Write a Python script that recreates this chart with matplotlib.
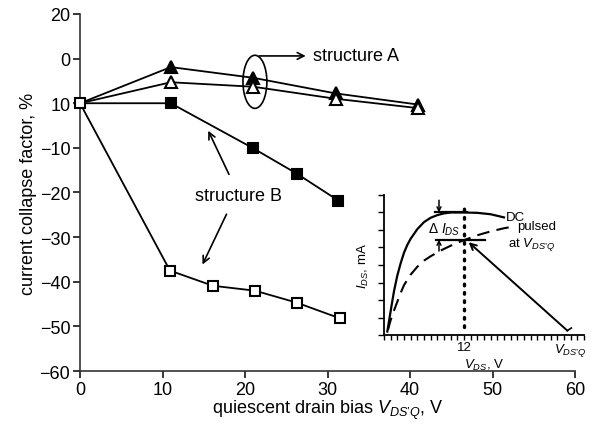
import matplotlib
matplotlib.use("Agg")
import matplotlib.pyplot as plt
from matplotlib.patches import Ellipse

plt.rcParams['font.family'] = ['Liberation Sans', 'DejaVu Sans']
plt.rcParams['mathtext.fontset'] = 'custom'
plt.rcParams['mathtext.rm'] = 'Liberation Sans'
plt.rcParams['mathtext.it'] = 'Liberation Sans:italic'

# ---- main data ----
xA = [0, 11, 21, 31, 41]
a_filled = [0, 8.1, 5.7, 2.2, -0.3]
a_open = [0, 4.7, 3.7, 1.0, -1.1]
xB_filled = [0, 11, 21, 26.3, 31.3]
b_filled = [0, 0.0, -10.1, -15.8, -21.8]
xB_open = [0, 10.9, 16.1, 21.2, 26.3, 31.5]
b_open = [0, -37.5, -40.9, -42.0, -44.7, -48.2]

yticks = [20, 10, 0, -10, -20, -30, -40, -50, -60]
ytick_labels = ['20', '0', '10', '\u221210', '\u221220', '\u221230', '\u221240', '\u221250', '\u221260']
xticks = [0, 10, 20, 30, 40, 50, 60]

# ---- inset data ----
dc_x = [0.5, 0.8, 1.1, 1.5, 2.0, 2.5, 3.0, 3.5, 4.0, 5.0, 6.0, 7.0, 8.0, 9.0, 10.0,
        12.0, 14.0, 16.0, 18.0]
dc_y = [0.2, 0.9, 1.6, 2.5, 3.4, 4.1, 4.7, 5.15, 5.5, 6.05, 6.45, 6.7, 6.85, 6.95, 7.0,
        7.0, 6.98, 6.9, 6.72]
pu_x = [0.6, 1.0, 1.5, 2.0, 2.5, 3.0, 4.0, 5.0, 6.0, 7.0, 8.0, 9.0, 10.0, 11.0, 12.0,
        14.0, 16.0, 18.0, 19.5]
pu_y = [0.3, 0.85, 1.4, 1.9, 2.4, 2.85, 3.45, 3.9, 4.25, 4.5, 4.72, 4.92, 5.1, 5.27, 5.42,
        5.7, 5.92, 6.1, 6.2]
inset_xlabels = {12: '12', 28: "$V_{DS\u2019Q}$"}

FS = 13
IFS = 9.5

fig = plt.figure(figsize=(6.03, 4.27), dpi=100)
ax = fig.add_axes([0.1327, 0.1288, 0.8209, 0.8361])

lw = 1.3
ms = 7.5
ax.plot(xA, a_filled, '-', color='black', lw=lw, marker='^', ms=ms + 1, mfc='black',
        mec='black', mew=1.5, markevery=[1, 2, 3, 4], zorder=3)
ax.plot(xA, a_open, '-', color='black', lw=lw, marker='^', ms=ms + 1, mfc='white',
        mec='black', mew=1.5, markevery=[1, 2, 3, 4], zorder=3)
ax.plot(xB_filled, b_filled, '-', color='black', lw=lw, marker='s', ms=ms, mfc='black',
        mec='black', mew=1.5, markevery=[1, 2, 3, 4], zorder=3)
ax.plot(xB_open, b_open, '-', color='black', lw=lw, marker='s', ms=ms, mfc='white',
        mec='black', mew=1.5, zorder=4, clip_on=False)

ax.set_xlim(0, 60)
ax.set_ylim(-60, 20)
ax.set_xticks(xticks)
ax.set_yticks(yticks)
ax.set_yticklabels(ytick_labels)
for s in ['top', 'right']:
    ax.spines[s].set_visible(False)
for s in ['left', 'bottom']:
    ax.spines[s].set_linewidth(1.2)
    ax.spines[s].set_color('#333333')
ax.tick_params(direction='out', length=5, width=1.1, labelsize=FS, colors='black', pad=2)
ax.set_xlabel("quiescent drain bias $V_{DS\u2019Q}$, V", fontsize=FS, labelpad=0)
ax.set_ylabel("current collapse factor, %", fontsize=FS, labelpad=2)

# annotations
ax.add_patch(Ellipse((21.2, 4.8), 2.9, 11.9, fill=False, ec='black', lw=1.2, zorder=5))
ax.annotate('', xy=(27.7, 10.6), xytext=(21.4, 10.6),
            arrowprops=dict(arrowstyle='->', lw=1.2, color='black', mutation_scale=12))
ax.text(28.3, 10.6, 'structure A', fontsize=FS, va='center', ha='left')
ax.text(19.2, -20.7, 'structure B', fontsize=FS, va='center', ha='center')
ax.annotate('', xy=(15.4, -5.6), xytext=(18.2, -16.5),
            arrowprops=dict(arrowstyle='->', lw=1.2, color='black', mutation_scale=12))
ax.annotate('', xy=(14.7, -36.7), xytext=(17.9, -24.3),
            arrowprops=dict(arrowstyle='->', lw=1.2, color='black', mutation_scale=12))

# ---- inset ----
ins = fig.add_axes([0.6368, 0.2131, 0.3317, 0.3279])
ins.patch.set_alpha(0)
ins.plot(dc_x, dc_y, '-', color='black', lw=1.6)
ins.plot(pu_x, pu_y, color='black', lw=1.5, dashes=(6, 3.5))
ins.plot([12, 12], [0.45, 7.6], color='black', lw=2.4, linestyle=(0, (0.5, 2.0)),
         dash_capstyle='round')
ins.plot([7.6, 12.4], [7.0, 7.0], color='black', lw=1.6)
ins.plot([7.8, 15.1], [5.45, 5.45], color='black', lw=1.6)
ins.annotate('', xy=(8.25, 7.0), xytext=(8.25, 7.7),
             arrowprops=dict(arrowstyle='->', lw=1.1, color='black', mutation_scale=7,
                             shrinkA=0, shrinkB=0))
ins.annotate('', xy=(8.25, 5.45), xytext=(8.25, 4.8),
             arrowprops=dict(arrowstyle='->', lw=1.1, color='black', mutation_scale=7,
                             shrinkA=0, shrinkB=0))
ins.annotate('', xy=(12.7, 5.3), xytext=(27.5, 0.25),
             arrowprops=dict(arrowstyle='->', lw=1.4, color='black', mutation_scale=11,
                             shrinkA=0, shrinkB=0))
ins.plot([27.5, 28.1], [0.25, 0.4], color='black', lw=1.2)
ins.text(6.6, 6.05, "\u0394 $I_{DS}$", fontsize=IFS + 0.5, ha='left', va='center')
ins.text(18.3, 6.75, "DC", fontsize=IFS, ha='left', va='center')
ins.text(20.0, 6.2, "pulsed", fontsize=IFS, ha='left', va='center')
ins.text(18.6, 5.2, "at $V_{DS\u2019Q}$", fontsize=IFS, ha='left', va='center')

ins.set_xlim(0, 30)
ins.set_ylim(0, 8)
ins.set_xticks(list(range(0, 31)))
ins.set_xticklabels([inset_xlabels.get(i, '') for i in range(0, 31)])
ins.set_yticks(list(range(0, 9)))
ins.set_yticklabels([])
for s in ['top', 'right']:
    ins.spines[s].set_visible(False)
for s in ['left', 'bottom']:
    ins.spines[s].set_linewidth(1.3)
ins.tick_params(axis='x', direction='out', length=3.5, width=1.0, labelsize=IFS, pad=1)
ins.tick_params(axis='y', direction='out', length=4, width=1.0)
ins.set_xlabel("$V_{DS}$, V", fontsize=IFS, labelpad=-1)
ins.set_ylabel("$I_{DS}$, mA", fontsize=IFS, labelpad=2)

fig.savefig('out.png', dpi=100)
